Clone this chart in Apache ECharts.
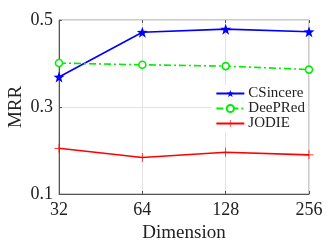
<!DOCTYPE html>
<html><head><meta charset="utf-8">
<script src="https://cdn.jsdelivr.net/npm/echarts@6/dist/echarts.min.js"></script>
<style>html,body{margin:0;padding:0;background:#fff}#c{width:332px;height:249px}</style>
</head><body><div id="c"></div>
<script>
const categories = ['32', '64', '128', '256'];
const csincere = [0.369, 0.472, 0.479, 0.473];
const deepred = [0.401, 0.397, 0.394, 0.386];
const jodie = [0.205, 0.184, 0.196, 0.190];
const yTicks = [0.1, 0.3, 0.5];

const STAR = 'path://M0,-10 L2.35,-3.24 L9.51,-3.09 L3.8,1.24 L5.88,8.09 L0,4 L-5.88,8.09 L-3.8,1.24 L-9.51,-3.09 L-2.35,-3.24Z';
const PLUS = 'path://M-0.8,-10 H0.8 V-0.8 H10 V0.8 H0.8 V10 H-0.8 V0.8 H-10 V-0.8 H-0.8Z';
const font = 'Liberation Serif';
const chart = echarts.init(document.getElementById('c'), null, {renderer: 'canvas'});
chart.setOption({
  animation: false,
  backgroundColor: '#fff',
  grid: {left: 59, right: 23, top: 20, bottom: 55, show: true, borderColor: '#999', borderWidth: 1,
         containLabel: false, outerBoundsMode: 'none'},
  xAxis: [{
    type: 'category', data: categories, boundaryGap: false,
    name: 'Dimension', nameLocation: 'middle', nameGap: 30,
    nameTextStyle: {fontFamily: font, fontSize: 19, color: '#222'},
    axisLine: {lineStyle: {color: '#555', width: 1}},
    axisTick: {inside: true, length: 3, lineStyle: {color: '#555'}, alignWithLabel: true},
    axisLabel: {fontFamily: font, fontSize: 18, color: '#222', margin: 7},
    splitLine: {show: true, lineStyle: {color: '#e3e3e3', width: 1}}
  }, {
    type: 'category', data: categories, boundaryGap: false, position: 'top',
    axisLine: {show: false}, axisLabel: {show: false},
    axisTick: {inside: true, length: 3, lineStyle: {color: '#555'}}
  }],
  yAxis: {
    type: 'value', min: yTicks[0], max: yTicks[yTicks.length - 1], interval: yTicks[1] - yTicks[0],
    name: 'MRR', nameLocation: 'middle', nameGap: 33, nameMoveOverlap: false,
    nameTextStyle: {fontFamily: font, fontSize: 19, color: '#222'},
    axisLine: {show: true, lineStyle: {color: '#555', width: 1}},
    axisTick: {show: true, inside: true, length: 3, lineStyle: {color: '#555'}},
    axisLabel: {fontFamily: font, fontSize: 18, color: '#222', margin: 6, formatter: v => v.toFixed(1)},
    splitLine: {show: true, lineStyle: {color: '#e3e3e3', width: 1}}
  },
  legend: {
    right: 25, top: 85, orient: 'vertical', backgroundColor: '#fff',
    itemWidth: 28, itemHeight: 9, itemGap: 0, padding: [1, 2, 1, 4],
    textStyle: {fontFamily: font, fontSize: 15, color: '#222', lineHeight: 14, padding: [0, 0, 0, -1]},
    data: ['CSincere', 'DeePRed', 'JODIE']
  },
  series: [{
    name: 'CSincere', type: 'line', data: csincere,
    symbol: STAR, symbolSize: 11, color: '#0000ff',
    lineStyle: {color: '#0000ff', width: 1.6}, itemStyle: {color: '#0000ff'}
  }, {
    name: 'DeePRed', type: 'line', data: deepred,
    symbol: 'circle', symbolSize: 7, color: '#00ee00',
    lineStyle: {color: '#00ee00', width: 1.6, type: [7, 3, 2, 3]},
    itemStyle: {color: '#fff', borderColor: '#00ee00', borderWidth: 1.6}
  }, {
    name: 'JODIE', type: 'line', data: jodie,
    symbol: PLUS, symbolSize: 9, color: '#ff0000',
    lineStyle: {color: '#ff0000', width: 1.6}, itemStyle: {color: '#ff0000'}
  }]
});
</script></body></html>
